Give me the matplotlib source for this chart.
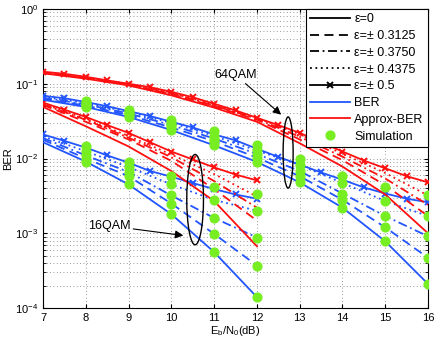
import matplotlib

matplotlib.use("Agg")
import matplotlib.pyplot as plt
from matplotlib.lines import Line2D
from matplotlib.patches import Ellipse
import numpy as np

plt.rcParams["font.family"] = ["Liberation Sans", "DejaVu Sans"]
plt.rcParams["mathtext.fontset"] = "custom"
plt.rcParams["mathtext.rm"] = "Liberation Sans"
plt.rcParams["mathtext.it"] = "Liberation Sans:italic"

# epsilon labels, order: 0, 0.3125, 0.375, 0.4375 (integer grid), 0.5 on a half-dB grid
EPS_LABELS = ["ε=0", "ε=± 0.3125", "ε=± 0.3750", "ε=± 0.4375", "ε=± 0.5"]

SNR16 = [7, 8, 9, 10, 11, 12]
SNR64 = [7, 8, 9, 10, 11, 12, 13, 14, 15, 16]
SNR16_HALF = [7, 7.5, 8, 8.5, 9, 9.5, 10, 10.5, 11, 11.5, 12]
SNR64_HALF = [7, 7.5, 8, 8.5, 9, 9.5, 10, 10.5, 11, 11.5, 12, 12.5, 13,
              13.5, 14, 14.5, 15, 15.5, 16]

# 16QAM exact BER (blue)
ber16 = [
    [0.0165, 0.0091, 0.0045, 0.0018, 0.00056, 0.00014],
    [0.0178, 0.0100, 0.0058, 0.0025, 0.00098, 0.00037],
    [0.0188, 0.0110, 0.0066, 0.0032, 0.0016, 0.00088],
    [0.0198, 0.0125, 0.0077, 0.0045, 0.0028, 0.0020],
]
ber16_half = [0.021, 0.0172, 0.0140, 0.0110, 0.0088, 0.0068, 0.0057,
              0.0047, 0.0039, 0.0033, 0.0029]

# 16QAM approximate BER (red)
apx16 = [
    [0.049, 0.027, 0.0145, 0.0068, 0.0027, 0.00067],
    [0.052, 0.031, 0.018, 0.0093, 0.0039, 0.00148],
    [0.053, 0.033, 0.019, 0.0104, 0.0050, 0.0022],
    [0.054, 0.034, 0.020, 0.0113, 0.0062, 0.0031],
]
apx16_half = [0.056, 0.045, 0.036, 0.028, 0.022, 0.0165, 0.0124, 0.0097,
              0.0076, 0.0061, 0.0051]

# 64QAM exact BER (blue)
ber64 = [
    [0.061, 0.049, 0.036, 0.024, 0.015, 0.0090, 0.0048, 0.0022, 0.00078, 0.00021],
    [0.063, 0.051, 0.038, 0.026, 0.017, 0.0103, 0.0058, 0.0028, 0.0012, 0.00047],
    [0.065, 0.053, 0.040, 0.028, 0.0185, 0.0115, 0.0068, 0.0034, 0.0017, 0.00091],
    [0.067, 0.055, 0.042, 0.030, 0.020, 0.0128, 0.0082, 0.0047, 0.0027, 0.0017],
]
ber64_half = [0.069, 0.064, 0.057, 0.050, 0.043, 0.037, 0.031, 0.026, 0.021,
              0.0175, 0.0135, 0.0105, 0.0083, 0.0065, 0.0052, 0.0041, 0.0034,
              0.0029, 0.0026]

# 64QAM approximate BER (red)
apx64 = [
    [0.138, 0.117, 0.095, 0.070, 0.048, 0.031, 0.016, 0.0078, 0.0033, 0.0010],
    [0.140, 0.119, 0.097, 0.073, 0.050, 0.033, 0.018, 0.0095, 0.0044, 0.0017],
    [0.141, 0.121, 0.098, 0.075, 0.051, 0.034, 0.0195, 0.0106, 0.0054, 0.0024],
    [0.143, 0.122, 0.099, 0.076, 0.052, 0.035, 0.021, 0.0116, 0.0064, 0.0032],
]
apx64_half = [0.145, 0.136, 0.124, 0.111, 0.100, 0.090, 0.078, 0.066, 0.054,
              0.044, 0.035, 0.028, 0.022, 0.0165, 0.0124, 0.0094, 0.0074,
              0.0058, 0.0048]

# simulation points (green), one column per epsilon (0.5 ... 0)
SIM16_X = [8, 9, 10, 11, 12]
sim16 = [
    [0.0145, 0.0125, 0.0110, 0.0100, 0.0091],
    [0.0089, 0.0078, 0.0067, 0.0058, 0.0045],
    [0.0059, 0.0045, 0.0032, 0.0025, 0.0018],
    [0.0041, 0.0028, 0.0016, 0.00098, 0.00056],
    [0.0033, 0.0020, 0.00087, 0.00037, 0.00014],
]
SIM64_X = [8, 9, 10, 11, 12, 13, 14, 15, 16]
sim64 = [
    [0.059, 0.056, 0.054, 0.051, 0.049],
    [0.045, 0.042, 0.040, 0.038, 0.036],
    [0.033, 0.030, 0.028, 0.026, 0.024],
    [0.023, 0.020, 0.0185, 0.017, 0.015],
    [0.0150, 0.0128, 0.0115, 0.0103, 0.0090],
    [0.0097, 0.0082, 0.0068, 0.0058, 0.0048],
    [0.0058, 0.0047, 0.0034, 0.0028, 0.0022],
    [0.0041, 0.0027, 0.0017, 0.0012, 0.00078],
    [0.0032, 0.0017, 0.00091, 0.00047, 0.00021],
]

BLUE = "#2255ff"
RED = "#ff1010"
GREEN = "#77ee22"
LW = 1.3
STYLES = ["-", (0, (5, 3)), (0, (5, 2, 1, 2)), (0, (1, 2))]


def plot_group(ax, x, rows, x_half, half, color):
    for vals, ls in zip(rows, STYLES):
        ax.plot(x, vals, color=color, lw=LW, linestyle=ls, zorder=3)
    ax.plot(x_half, half, color=color, lw=LW, marker="x", ms=5, mew=1.4,
            zorder=3)


def axes_frac(ax, x, y):
    return (ax.transScale + ax.transLimits).transform((x, y))


fig = plt.figure(figsize=(4.36, 3.46), dpi=100)
ax = fig.add_axes([0.0986, 0.1098, 0.8831, 0.8642])
ax.set_yscale("log")
ax.set_xlim(7, 16)
ax.set_ylim(1e-4, 1)

plot_group(ax, SNR16, ber16, SNR16_HALF, ber16_half, BLUE)
plot_group(ax, SNR16, apx16, SNR16_HALF, apx16_half, RED)
plot_group(ax, SNR64, ber64, SNR64_HALF, ber64_half, BLUE)
plot_group(ax, SNR64, apx64, SNR64_HALF, apx64_half, RED)

for xs, sims in ((SIM16_X, sim16), (SIM64_X, sim64)):
    for xv, col in zip(xs, sims):
        ax.plot([xv] * len(col), col, linestyle="none", marker="o", ms=6.3,
                color=GREEN, mec=GREEN, zorder=4)

ax.set_xticks(range(7, 17))
ax.grid(True, which="major", linestyle=(0, (1, 3)), color="#777777", lw=0.6)
ax.grid(True, which="minor", axis="y", linestyle=(0, (1, 3)), color="#777777",
        lw=0.6)
ax.tick_params(which="both", direction="in", top=True, right=True,
               labelsize=8, length=3)
ax.tick_params(which="minor", length=2)
ax.set_xlabel("E$_\\mathrm{b}$/N$_\\mathrm{0}$(dB)", fontsize=8, labelpad=1)
ax.set_ylabel("BER", fontsize=8, labelpad=1)

# ellipses and labels for the two constellations
for (cx, cy), w, h in (((10.556, 10 ** -2.55), 0.0434, 0.302),
                       ((12.73, 10 ** -1.92), 0.026, 0.238)):
    fx, fy = axes_frac(ax, cx, cy)
    ax.add_patch(Ellipse((fx, fy), w, h, transform=ax.transAxes, fill=False,
                         ec="black", lw=1.0, zorder=5))

ax.annotate("16QAM", xy=(10.28, 10 ** -3.03), xytext=(8.05, 10 ** -2.9),
            fontsize=9, va="center",
            arrowprops=dict(arrowstyle="-|>", color="black", lw=0.8,
                            mutation_scale=12, shrinkA=0, shrinkB=0))
ax.annotate("64QAM", xy=(12.64, 10 ** -1.45), xytext=(11.0, 10 ** -0.88),
            fontsize=9, va="center",
            arrowprops=dict(arrowstyle="-|>", color="black", lw=0.8,
                            mutation_scale=12, shrinkA=0, shrinkB=3))

handles = [Line2D([], [], color="black", lw=LW, linestyle=ls) for ls in STYLES]
handles.append(Line2D([], [], color="black", lw=LW, marker="x", ms=5, mew=1.4))
handles.append(Line2D([], [], color=BLUE, lw=LW))
handles.append(Line2D([], [], color=RED, lw=LW))
handles.append(Line2D([], [], color=GREEN, marker="o", ms=6.3, linestyle="none"))
labels = EPS_LABELS + ["BER", "Approx-BER", "Simulation"]
leg = ax.legend(handles, labels, loc="upper right", fontsize=9, handlelength=3.2,
                labelspacing=0.38, borderaxespad=0.0, fancybox=False,
                framealpha=1, edgecolor="black", handletextpad=0.35,
                borderpad=0.35)
leg.get_frame().set_linewidth(0.8)
leg.set_zorder(10)

fig.savefig("out.png", dpi=100)
